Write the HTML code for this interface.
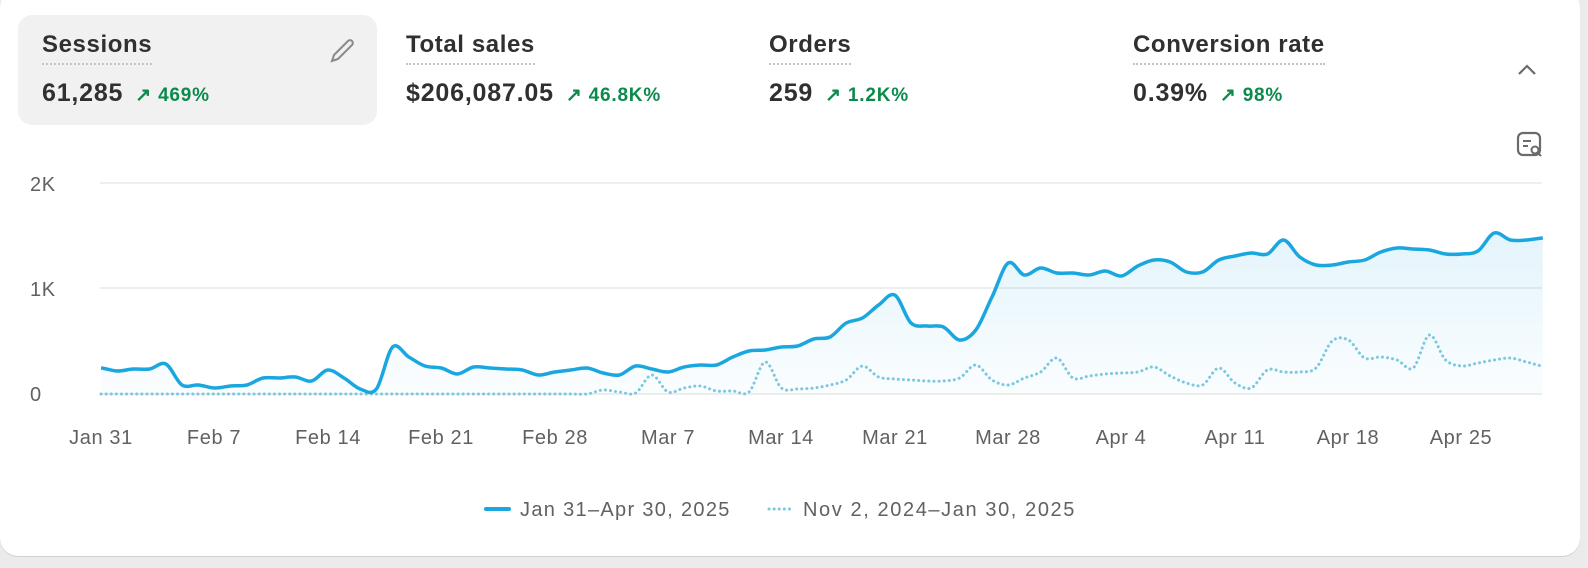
<!DOCTYPE html>
<html><head><meta charset="utf-8"><style>
body{margin:0;width:1588px;height:568px;background:#ebebeb;font-family:"Liberation Sans",sans-serif;overflow:hidden;position:relative}
.card{position:absolute;left:0;top:-10px;width:1580px;height:566px;background:#fff;border-radius:18px;box-shadow:0 1px 0 #d0d0d0}
.sel{position:absolute;left:18px;top:15px;width:359px;height:110px;background:#f1f1f1;border-radius:14px}
.m{position:absolute;top:31px;color:#303030}
.lab{font-size:24px;font-weight:bold;display:inline-block;padding-bottom:4px;border-bottom:2px dotted #c4c4c4;letter-spacing:0.6px}
.val{margin-top:14px;font-size:25px;font-weight:bold;white-space:nowrap;letter-spacing:0.8px}
.g{color:#0c8a4c;font-size:19px;margin-left:12px;letter-spacing:0.8px}
</style></head><body>
<div class="card"></div>
<div class="sel"></div>
<div class="m" style="left:42px"><div class="lab">Sessions</div><div class="val">61,285<span class="g">↗ 469%</span></div></div>
<div class="m" style="left:406px"><div class="lab">Total sales</div><div class="val">$206,087.05<span class="g">↗ 46.8K%</span></div></div>
<div class="m" style="left:769px"><div class="lab">Orders</div><div class="val">259<span class="g">↗ 1.2K%</span></div></div>
<div class="m" style="left:1133px"><div class="lab">Conversion rate</div><div class="val">0.39%<span class="g">↗ 98%</span></div></div>
<svg width="1588" height="568" style="position:absolute;left:0;top:0">
<defs><linearGradient id="gr" x1="0" y1="0" x2="0" y2="1"><stop offset="0" stop-color="#1aa7e0" stop-opacity="0.12"/><stop offset="1" stop-color="#1aa7e0" stop-opacity="0.02"/></linearGradient></defs>
<path d="M334 55 l14 -14 a2.5 2.5 0 0 1 4 4 l-14 14 l-6 2 z" fill="none" stroke="#8a8a8a" stroke-width="2"/>
<path d="M1519 74 l8 -8 l8 8" fill="none" stroke="#6b6b6b" stroke-width="2.2"/>
<rect x="1518" y="133" width="22" height="22" rx="5" fill="none" stroke="#6b6b6b" stroke-width="2.2"/>
<path d="M1523 141h8M1523 146h5" stroke="#6b6b6b" stroke-width="2"/>
<circle cx="1535" cy="150" r="3.5" fill="#fff" stroke="#6b6b6b" stroke-width="2"/><path d="M1538 153l3 3" stroke="#6b6b6b" stroke-width="2"/>
<g stroke="#e8e8e8" stroke-width="1.5"><line x1="100" y1="183" x2="1542" y2="183"/><line x1="100" y1="288" x2="1542" y2="288"/><line x1="100" y1="394" x2="1542" y2="394"/></g>
<g font-size="20" fill="#616161" letter-spacing="0.6"><text x="30" y="191">2K</text><text x="30" y="296">1K</text><text x="30" y="401">0</text>
<g text-anchor="middle"><text x="101" y="444">Jan 31</text><text x="214" y="444">Feb 7</text><text x="328" y="444">Feb 14</text><text x="441" y="444">Feb 21</text><text x="555" y="444">Feb 28</text><text x="668" y="444">Mar 7</text><text x="781" y="444">Mar 14</text><text x="895" y="444">Mar 21</text><text x="1008" y="444">Mar 28</text><text x="1121" y="444">Apr 4</text><text x="1235" y="444">Apr 11</text><text x="1348" y="444">Apr 18</text><text x="1461" y="444">Apr 25</text></g>
<text x="520" y="516" textLength="210">Jan 31–Apr 30, 2025</text><text x="803" y="516" textLength="272">Nov 2, 2024–Jan 30, 2025</text></g>
<line x1="486" y1="509" x2="509" y2="509" stroke="#1aa7e0" stroke-width="4" stroke-linecap="round"/>
<line x1="769" y1="509" x2="792" y2="509" stroke="#7cc8df" stroke-width="3" stroke-dasharray="0.1 5" stroke-linecap="round"/>
<path id="fill" fill="url(#gr)"/>
<path id="prev" fill="none" stroke="#7cc8df" stroke-width="3" stroke-dasharray="0.1 5" stroke-linecap="round"/>
<path id="cur" fill="none" stroke="#1aa7e0" stroke-width="3.5" stroke-linejoin="round"/>
</svg>
<script>
var c=[368,371,369,369,364,385,385,388,386,385,378,378,377,381,370,378,389,389,347,357,366,368,374,367,368,369,370,375,372,370,368,373,375,366,369,372,367,365,365,357,351,350,347,346,339,337,323,318,305,295,323,326,327,340,330,297,263,275,268,273,273,275,271,276,266,260,262,272,272,260,256,253,254,240,257,265,265,262,260,252,248,249,250,254,254,251,233,240,240,238];
var p=[];for(var i=0;i<31;i++)p.push(394);
p=p.concat([390,392,393,375,392,388,386,391,391,392,362,388,389,388,385,380,366,377,379,380,381,381,378,365,380,385,378,372,358,378,376,374,373,372,367,376,383,385,368,383,388,370,372,372,368,341,340,358,357,360,368,335,360,366,363,360,358,362,366]);
function X(i){return 101+i*16.2}
function path(a){var d="M"+X(0)+" "+a[0];for(var i=0;i<a.length-1;i++){var p0=a[Math.max(0,i-1)],p1=a[i],p2=a[i+1],p3=a[Math.min(a.length-1,i+2)];var t=0.16;d+=" C"+(X(i)+16.2/3)+" "+(p1+(p2-p0)*t)+" "+(X(i+1)-16.2/3)+" "+(p2-(p3-p1)*t)+" "+X(i+1)+" "+p2;}return d}
var dc=path(c);
document.getElementById("cur").setAttribute("d",dc);
document.getElementById("prev").setAttribute("d",path(p));
document.getElementById("fill").setAttribute("d",dc+" L"+X(89)+" 394 L101 394 Z");
</script>
</body></html>
